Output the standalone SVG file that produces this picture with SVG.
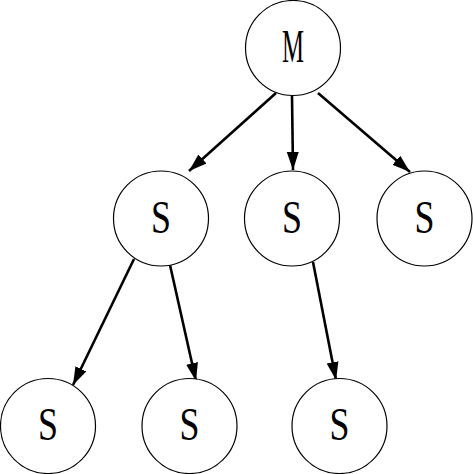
<svg xmlns="http://www.w3.org/2000/svg" width="473" height="474" viewBox="0 0 473 474">
<style>
.n{fill:#fff;stroke:#000;stroke-width:1.2}
.t{font-family:"Liberation Serif",serif;font-size:47px;fill:#000;text-anchor:middle}
.e{stroke:#000;stroke-width:2.6;fill:none}
</style>
<defs>
<marker id="a" markerUnits="userSpaceOnUse" markerWidth="20" markerHeight="14" refX="18" refY="6" orient="auto">
<path d="M0,0 L18,6 L0,12 Z" fill="#000"/>
</marker>
</defs>
<rect width="473" height="474" fill="#fff"/>
<g id="edges">
<line class="e" x1="276" y1="93" x2="189" y2="171" marker-end="url(#a)"/>
<line class="e" x1="292" y1="96" x2="293" y2="170" marker-end="url(#a)"/>
<line class="e" x1="318" y1="93" x2="410" y2="172" marker-end="url(#a)"/>
<line class="e" x1="134" y1="259" x2="73" y2="385" marker-end="url(#a)"/>
<line class="e" x1="170" y1="265" x2="196" y2="381" marker-end="url(#a)"/>
<line class="e" x1="313" y1="262" x2="336" y2="380" marker-end="url(#a)"/>
</g>
<g id="m"><circle class="n" cx="293" cy="48" r="47.5"/><text class="t" x="293" y="62" textLength="22" lengthAdjust="spacingAndGlyphs">M</text></g>
<g id="s1"><circle class="n" cx="161" cy="218.5" r="47.5"/><text class="t" x="161" y="232.5" textLength="20" lengthAdjust="spacingAndGlyphs">S</text></g>
<g id="s2"><circle class="n" cx="292" cy="218.5" r="47.5"/><text class="t" x="292" y="232.5" textLength="20" lengthAdjust="spacingAndGlyphs">S</text></g>
<g id="s3"><circle class="n" cx="424.5" cy="218.5" r="47.5"/><text class="t" x="424.5" y="232.5" textLength="20" lengthAdjust="spacingAndGlyphs">S</text></g>
<g id="s4"><circle class="n" cx="48" cy="426" r="47.5"/><text class="t" x="48" y="440" textLength="20" lengthAdjust="spacingAndGlyphs">S</text></g>
<g id="s5"><circle class="n" cx="189.5" cy="426" r="47.5"/><text class="t" x="189.5" y="440" textLength="20" lengthAdjust="spacingAndGlyphs">S</text></g>
<g id="s6"><circle class="n" cx="339.5" cy="426" r="47.5"/><text class="t" x="339.5" y="440" textLength="20" lengthAdjust="spacingAndGlyphs">S</text></g>
</svg>
